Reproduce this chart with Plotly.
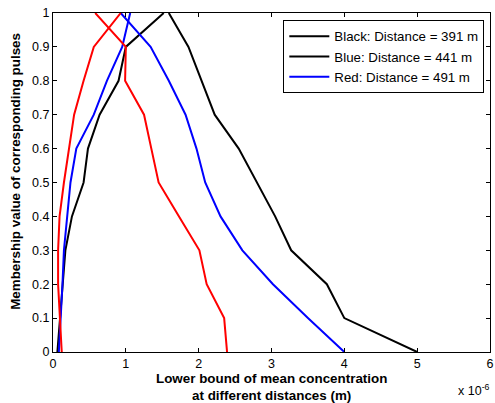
import plotly.graph_objects as go

# Membership levels (alpha-cuts)
membership = [0.0, 0.1, 0.2, 0.3, 0.4, 0.5, 0.6, 0.7, 0.8, 0.9, 1.0]

# Lower bound of mean concentration, in units of 1e-6
black_left = [0.06, 0.10, 0.13, 0.17, 0.26, 0.42, 0.48, 0.64, 0.90, 1.00, 1.52]
black_right = [5.00, 4.00, 3.76, 3.27, 3.05, 2.80, 2.55, 2.22, 2.04, 1.86, 1.59]
blue_left = [0.08, 0.11, 0.13, 0.15, 0.19, 0.24, 0.32, 0.56, 0.74, 0.95, 1.06]
blue_right = [4.00, 3.50, 3.02, 2.60, 2.30, 2.09, 1.97, 1.82, 1.59, 1.34, 0.93]
red_left = [0.12, 0.09, 0.07, 0.07, 0.09, 0.15, 0.22, 0.29, 0.42, 0.56, 0.93]
red_right = [2.39, 2.35, 2.11, 2.01, 1.73, 1.45, 1.35, 1.25, 0.99, 1.00, 0.58]

legend_names = ["Black: Distance = 391 m", "Blue: Distance = 441 m", "Red: Distance = 491 m"]
x_ticks = [0, 1, 2, 3, 4, 5, 6]
y_ticks = [0, 0.1, 0.2, 0.3, 0.4, 0.5, 0.6, 0.7, 0.8, 0.9, 1.0]
y_tick_text = ["0", "0.1", "0.2", "0.3", "0.4", "0.5", "0.6", "0.7", "0.8", "0.9", "1"]

series = [
    (black_left, "black", "black left"),
    (black_right, "black", "black right"),
    (blue_left, "blue", "blue left"),
    (blue_right, "blue", "blue right"),
    (red_left, "red", "red left"),
    (red_right, "red", "red right"),
]

fig = go.Figure()
for i, (xs, color, trace_id) in enumerate(series):
    fig.add_trace(go.Scatter(
        x=xs, y=membership, mode="lines",
        line=dict(color=color, width=2),
        name=legend_names[i] if i < len(legend_names) else trace_id,
        showlegend=i < len(legend_names),
    ))

family = "Liberation Sans, Arial, sans-serif"
font = dict(family=family, size=12.5, color="black")
title_font = dict(family=family, size=13.4, color="black")

axis_common = dict(
    showgrid=False, zeroline=False, showline=True, linecolor="black", linewidth=1,
    mirror="ticks", ticks="inside", ticklen=4, tickcolor="black",
    tickfont=font, ticklabeloverflow="allow",
)

fig.update_layout(
    width=495, height=403,
    margin=dict(l=53, r=1, t=13, b=51),
    paper_bgcolor="white", plot_bgcolor="white",
    font=font,
    xaxis=dict(range=[0, 6], tickvals=x_ticks, **axis_common),
    yaxis=dict(range=[0, 1], tickvals=y_ticks, ticktext=y_tick_text, **axis_common),
    legend=dict(
        x=0.987, y=0.979, xanchor="right", yanchor="top",
        bordercolor="black", borderwidth=1, bgcolor="white",
        font=dict(family=family, size=13.3, color="black"),
        tracegroupgap=0, itemwidth=40,
    ),
    showlegend=True,
)

fig.add_annotation(
    text="<b>Lower bound of mean concentration<br>at different distances (m)</b>",
    xref="paper", yref="paper", x=0.5, y=-0.049, xanchor="center", yanchor="top",
    showarrow=False, font=title_font, align="center",
)
fig.add_annotation(
    text="<b>Membership value of corresponding pulses</b>",
    xref="paper", yref="paper", x=-0.085, y=0.534, xanchor="center", yanchor="middle",
    textangle=-90, showarrow=False, font=title_font,
)
fig.add_annotation(
    text="x 10<sup>-6</sup>",
    xref="paper", yref="paper", x=1.004, y=-0.083, xanchor="right", yanchor="top",
    showarrow=False, font=font,
)

fig.write_html("out.html")
